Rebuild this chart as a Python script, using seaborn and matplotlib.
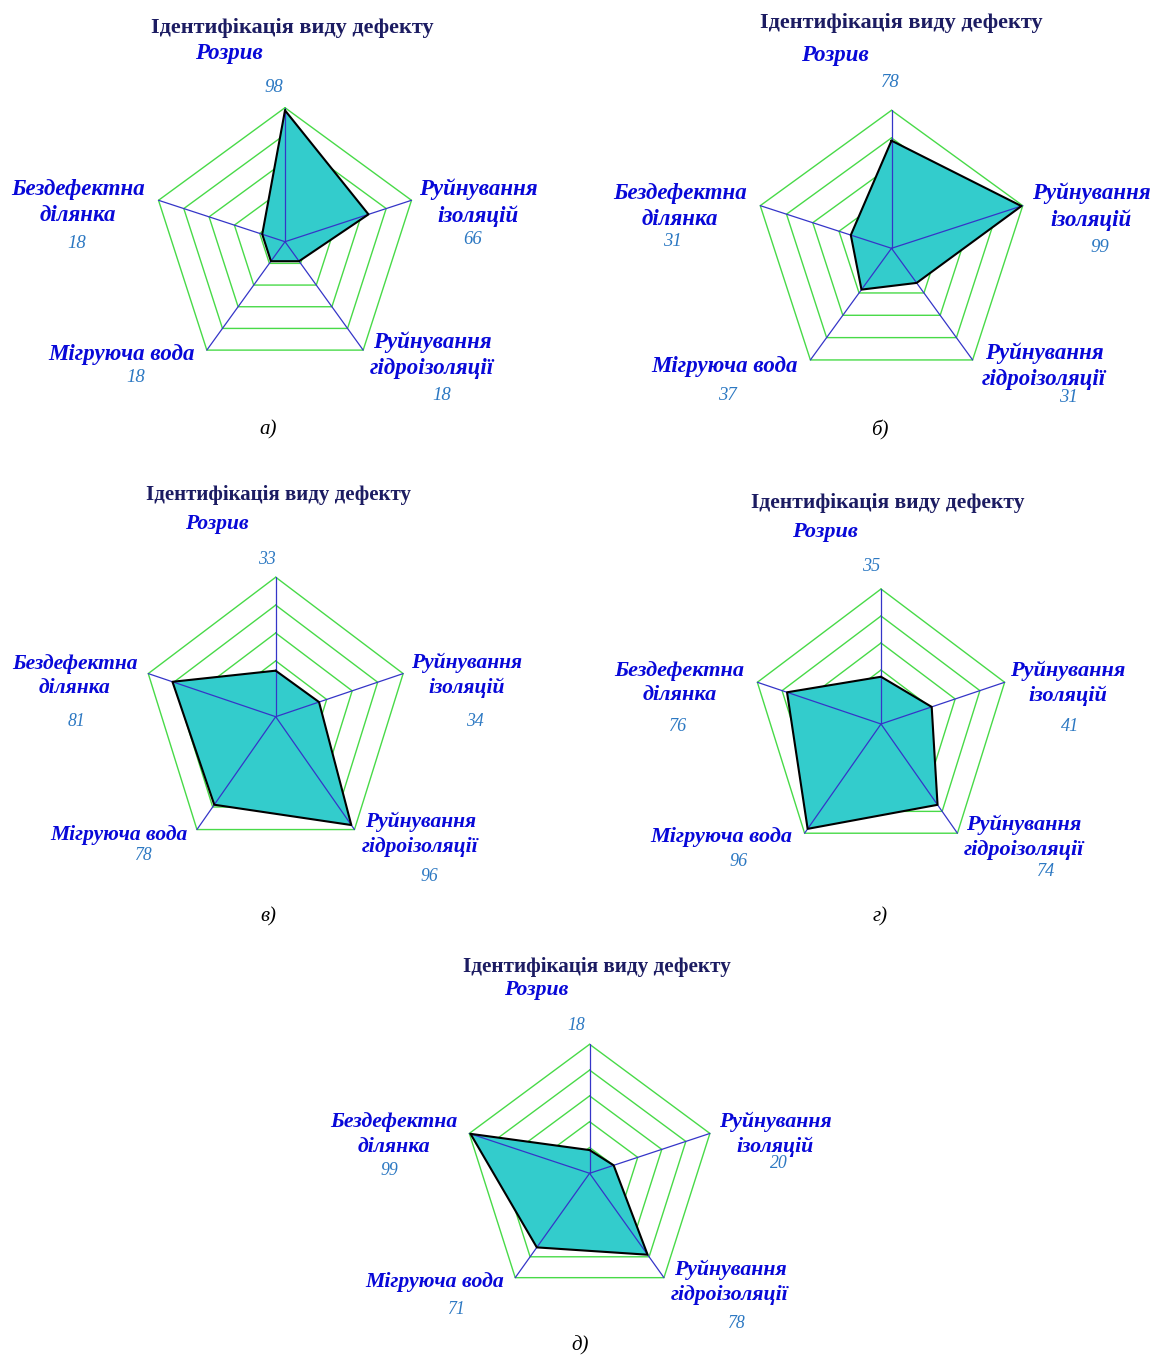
import numpy as np
import pandas as pd
import matplotlib
matplotlib.use("Agg")
import matplotlib.pyplot as plt
import seaborn as sns

# ---------------- data ----------------
title_text = "Ідентифікація виду дефекту"
categories = ["Розрив", "Руйнування\nізоляцій", "Руйнування\nгідроізоляції",
              "Мігруюча вода", "Бездефектна\nділянка"]
ring_levels = [20, 40, 60, 80, 100]
values_a = [98, 66, 18, 18, 18]
values_b = [78, 99, 31, 37, 31]
values_c = [33, 34, 96, 78, 81]
values_d = [35, 41, 74, 96, 76]
values_e = [18, 20, 78, 71, 99]
panel_labels = ["а)", "б)", "в)", "г)", "д)"]
r_max = 100

# ---------------- layout (pixels) ----------------
W, H = 1154, 1356
layouts = [
    dict(center=(285, 241.7), radius=(133, 134), title=(292, 28), scale=1.0,
         cats=[(229, 53), (478, 202.5), (432, 355), (121.5, 355), (78, 202.5)],
         vals=[(274, 88), (473, 240), (441.6, 395), (135.5, 378), (77, 243)],
         cap=(268, 430)),
    dict(center=(891.5, 248.3), radius=(138, 138), title=(901, 22.7), scale=1.0,
         cats=[(835, 55), (1091, 206.7), (1044, 366), (724.5, 366.7), (680, 206.2)],
         vals=[(890.5, 82.7), (1100, 248), (1068, 398), (727.5, 395), (672, 241.7)],
         cap=(880, 430)),
    dict(center=(275.7, 716.7), radius=(134, 139.5), title=(278.7, 495), scale=0.94,
         cats=[(217, 524), (467, 675.3), (420.5, 834.3), (118.7, 835), (74.5, 675.8)],
         vals=[(267, 559.3), (475, 721.7), (429.4, 876.7), (143.4, 856), (77, 721.7)],
         cap=(268, 917)),
    dict(center=(881, 724), radius=(130, 135), title=(888, 503.3), scale=0.97,
         cats=[(825.4, 531.7), (1068, 683.3), (1024, 837.5), (721, 836.7), (679.5, 683)],
         vals=[(871, 566.7), (1070, 726), (1046.5, 871.7), (739, 861.7), (678, 726)],
         cap=(880, 917)),
    dict(center=(589.6, 1173.3), radius=(126.5, 129), title=(596.6, 966.7), scale=0.95,
         cats=[(536, 990), (775, 1134.2), (730, 1282.5), (435, 1281.7), (393.5, 1134.7)],
         vals=[(576.7, 1025), (778.5, 1163.5), (736.5, 1323.3), (457, 1310), (389.6, 1170.7)],
         cap=(580, 1346)),
]

fill_color = "#33CCCC"
ring_color = "#48DA48"
spoke_color = "#3535C8"
title_color = "#1C1C62"
cat_color = "#0808D8"
val_color = "#2C78C2"

sns.set_theme(style="white")
plt.rcParams['font.family'] = ['Liberation Serif', 'DejaVu Serif']

fig = plt.figure(figsize=(W / 100, H / 100), dpi=100)
fig.patch.set_facecolor("white")


def fx(x):
    return x / W


def fy(y):
    return 1 - y / H


all_values = [values_a, values_b, values_c, values_d, values_e]
n = len(categories)
theta = np.linspace(0, 2 * np.pi, n, endpoint=False)
theta_closed = np.append(theta, theta[0])

for vals, lab, L in zip(all_values, panel_labels, layouts):
    cx, cy = L["center"]
    rh, rv = L["radius"]
    s = L["scale"]
    ax = fig.add_axes([(cx - rh) / W, 1 - (cy + rv) / H, 2 * rh / W, 2 * rv / H],
                      projection="polar")
    ax.set_aspect("auto")
    ax.set_theta_zero_location("N")
    ax.set_theta_direction(-1)

    for lvl in ring_levels:
        ax.plot(theta_closed, [lvl] * (n + 1), color=ring_color, lw=1.0,
                zorder=1, clip_on=False)

    vals_closed = list(vals) + [vals[0]]
    ax.fill(theta_closed, vals_closed, color=fill_color, zorder=2, clip_on=False,
            lw=0)
    for t in theta:
        ax.plot([t, t], [0, r_max], color=spoke_color, lw=0.9, zorder=3,
                clip_on=False)
    df = pd.DataFrame({"theta": theta_closed, "value": vals_closed})
    sns.lineplot(data=df, x="theta", y="value", sort=False, estimator=None,
                 color="black", lw=1.5, ax=ax, zorder=4, clip_on=False)

    ax.set_xlabel("")
    ax.set_ylabel("")
    ax.grid(False)
    ax.set_xticks([])
    ax.set_yticks([])
    ax.spines["polar"].set_visible(False)
    ax.patch.set_visible(False)
    ax.set_ylim(0, r_max)

    # texts
    tx, ty = L["title"]
    fig.text(fx(tx), fy(ty), title_text, ha="center", va="center",
             fontsize=16 * s, fontweight="bold", color=title_color)
    for cat, v, (px, py), (vx, vy) in zip(categories, vals, L["cats"], L["vals"]):
        fig.text(fx(px), fy(py), cat, ha="center", va="center",
                 multialignment="center", linespacing=1.3,
                 fontsize=16.5 * s, fontweight="bold", fontstyle="italic",
                 color=cat_color)
        fig.text(fx(vx), fy(vy), str(v), ha="center", va="center",
                 fontsize=13.5 * s, fontstyle="italic", color=val_color)
    capx, capy = L["cap"]
    fig.text(fx(capx), fy(capy), lab, ha="center", va="center",
             fontsize=15, fontstyle="italic", color="black")

fig.savefig("out.png", dpi=100, facecolor="white")
